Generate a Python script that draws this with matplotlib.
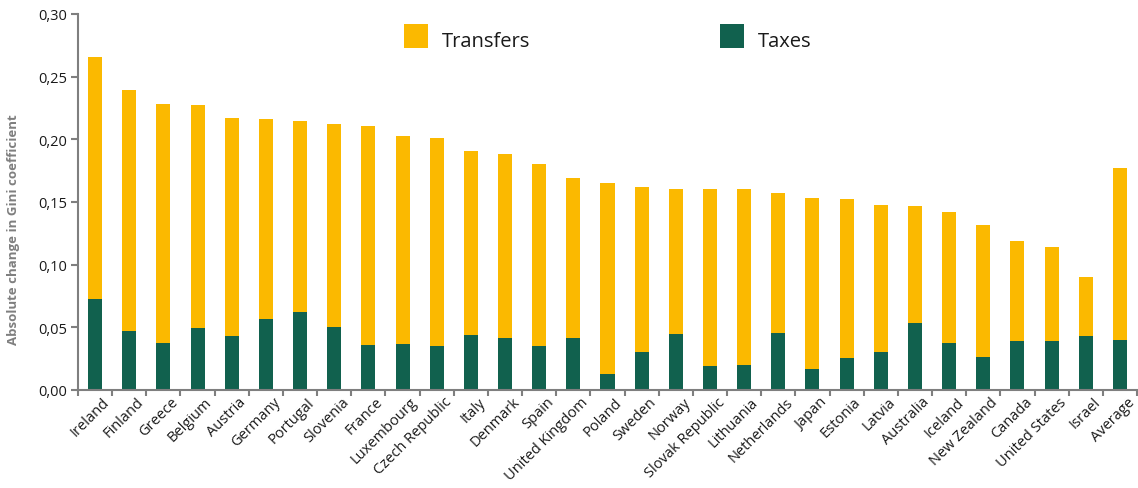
import numpy as np
import matplotlib
matplotlib.use("Agg")
import matplotlib.pyplot as plt
from matplotlib.patches import Rectangle
from matplotlib.ticker import FuncFormatter
import matplotlib.transforms as mtransforms

plt.rcParams["font.family"] = ["Open Sans", "DejaVu Sans"]

countries = ["Ireland", "Finland", "Greece", "Belgium", "Austria", "Germany",
             "Portugal", "Slovenia", "France", "Luxembourg", "Czech Republic",
             "Italy", "Denmark", "Spain", "United Kingdom", "Poland", "Sweden",
             "Norway", "Slovak Republic", "Lithuania", "Netherlands", "Japan",
             "Estonia", "Latvia", "Australia", "Iceland", "New Zealand",
             "Canada", "United States", "Israel", "Average"]
# total redistributive effect (taxes + transfers)
total = [0.266, 0.239, 0.228, 0.227, 0.217, 0.216, 0.215, 0.212, 0.211, 0.203,
         0.201, 0.191, 0.188, 0.180, 0.169, 0.165, 0.162, 0.160, 0.160, 0.160,
         0.157, 0.153, 0.152, 0.148, 0.147, 0.142, 0.132, 0.119, 0.114, 0.090,
         0.177]
taxes = [0.0725, 0.047, 0.0373, 0.0493, 0.043, 0.057, 0.062, 0.050, 0.036, 0.037,
         0.035, 0.044, 0.0415, 0.035, 0.0415, 0.013, 0.030, 0.045, 0.019, 0.020,
         0.0455, 0.017, 0.0255, 0.030, 0.0535, 0.0375, 0.026, 0.039, 0.039, 0.043,
         0.040]
transfers = [t - x for t, x in zip(total, taxes)]

YELLOW = "#FBB900"
GREEN = "#11614E"
SPINE = "#7f7f7f"

fig = plt.figure(figsize=(11.38, 4.89), dpi=100)
ax = fig.add_axes([78 / 1138, 1 - 391 / 489, 1059 / 1138, 376 / 489])

x = np.arange(len(countries))
ax.bar(x, taxes, width=0.41, color=GREEN, label="Taxes")
ax.bar(x, transfers, width=0.41, bottom=taxes, color=YELLOW, label="Transfers")

ax.set_xlim(-0.5, len(countries) - 0.5)
ax.set_ylim(0, 0.30)
ax.set_yticks(np.arange(0, 0.301, 0.05))
ax.yaxis.set_major_formatter(FuncFormatter(lambda v, p: f"{v:.2f}".replace(".", ",")))

# category boundary ticks like Excel
ax.set_xticks(np.arange(-0.5, len(countries), 1.0))
ax.set_xticklabels([])
ax.set_xticks(x, minor=True)
ax.set_xticklabels(countries, minor=True, rotation=45, ha="right",
                   rotation_mode="anchor", fontsize=10.5, color="#1a1a1a")
ax.tick_params(axis="x", which="minor", length=0, pad=3)
off = mtransforms.ScaledTranslation(7 / 100, 0, fig.dpi_scale_trans)
for lab in ax.get_xticklabels(minor=True):
    lab.set_transform(lab.get_transform() + off)
ax.tick_params(axis="x", which="major", length=4, width=1.5, color=SPINE)
ax.tick_params(axis="y", length=5, width=1.5, color=SPINE, labelsize=10.5,
               labelcolor="#1a1a1a", pad=3)

for s in ["top", "right"]:
    ax.spines[s].set_visible(False)
for s in ["left", "bottom"]:
    ax.spines[s].set_color(SPINE)
    ax.spines[s].set_linewidth(1.5)

fig.text(14 / 1138, 1 - 230 / 489, "Absolute change in Gini coefficient",
         rotation=90, ha="center", va="center", fontsize=9.5,
         color="#7f7f7f", fontweight="bold")

# legend drawn by hand
for px, lab, col in [(404, "Transfers", YELLOW), (720, "Taxes", GREEN)]:
    fig.add_artist(Rectangle((px / 1138, 1 - 49 / 489), 24 / 1138, 24 / 489,
                             transform=fig.transFigure, color=col, lw=0))
    fig.text((px + 38) / 1138, 1 - 42 / 489, lab, ha="left", va="center",
             fontsize=14.5, color="#1a1a1a")

fig.savefig("out.png", dpi=100)
